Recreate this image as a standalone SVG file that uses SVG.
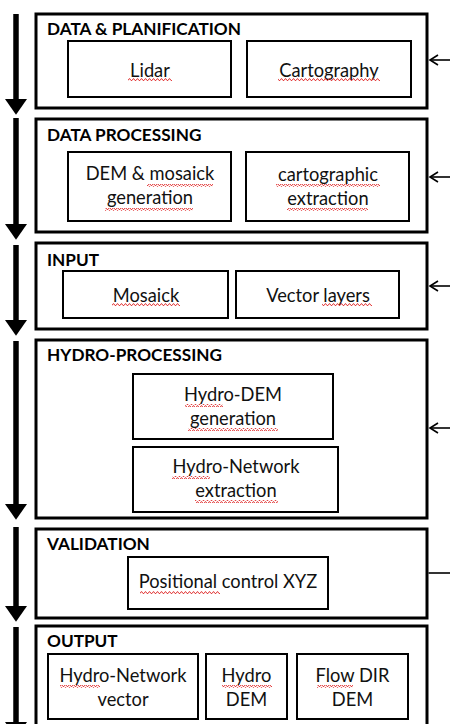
<svg xmlns="http://www.w3.org/2000/svg" width="450" height="724" viewBox="0 0 450 724">
<defs>
<style>
.outer{fill:#fff;stroke:#000;stroke-width:3}
.inner{fill:#fff;stroke:#000;stroke-width:2}
.title{font-family:Lato,"Liberation Sans",sans-serif;font-weight:bold;font-size:17.2px;fill:#000}
.lbl{font-family:Lato,"Liberation Sans",sans-serif;font-size:18.3px;fill:#111;text-anchor:middle}
.thick{stroke:#000;stroke-width:5.5;fill:none}
.thin{stroke:#000;stroke-width:1.6;fill:none}
.sq{fill:url(#sqp)}
</style>
<pattern id="sqp" width="4" height="3" patternUnits="userSpaceOnUse">
<polyline points="0,2.5 1,0.8 2,0.8 3,2.5 4,2.5" fill="none" stroke="#e03030" stroke-width="0.9"/>
</pattern>
<marker id="bighead" markerWidth="4" markerHeight="4" refX="0" refY="1.4" orient="auto" markerUnits="strokeWidth" viewBox="0 0 2 2.8">
<polygon points="0,0 2,1.4 0,2.8" fill="#000"/>
</marker>
<marker id="openhead" markerWidth="12" markerHeight="12" refX="10" refY="6" orient="auto" markerUnits="userSpaceOnUse" viewBox="0 0 12 12">
<polyline points="2,1 10,6 2,11" fill="none" stroke="#000" stroke-width="1.6"/>
</marker>
</defs>
<rect width="450" height="724" fill="#fff"/>

<g id="data-planification">
<rect class="outer" x="36" y="14" width="391" height="94"/>
<text class="title" x="47" y="35">DATA &amp; PLANIFICATION</text>
<g id="lidar">
<rect class="inner" x="68" y="41" width="163" height="56"/>
<text class="lbl" x="150" y="77">Lidar</text>
<rect class="sq" x="128" y="78" width="44" height="3"/>
</g>
<g id="cartography">
<rect class="inner" x="247" y="41" width="164" height="56"/>
<text class="lbl" x="329" y="77">Cartography</text>
<rect class="sq" x="278" y="78" width="102" height="3"/>
</g>
</g>

<g id="data-processing">
<rect class="outer" x="36" y="119" width="391" height="113"/>
<text class="title" x="47" y="141">DATA PROCESSING</text>
<g id="dem-mosaick">
<rect class="inner" x="68" y="152" width="163" height="69"/>
<text class="lbl" x="150" y="180">DEM &amp; mosaick</text>
<text class="lbl" x="150" y="204">generation</text>
<rect class="sq" x="147" y="184" width="66" height="3"/>
<rect class="sq" x="105" y="208" width="88" height="3"/>
</g>
<g id="cartographic-extraction">
<rect class="inner" x="246" y="152" width="163" height="69"/>
<text class="lbl" x="328" y="181">cartographic</text>
<text class="lbl" x="328" y="205">extraction</text>
<rect class="sq" x="276" y="184" width="104" height="3"/>
<rect class="sq" x="287" y="208" width="81" height="3"/>
</g>
</g>

<g id="input">
<rect class="outer" x="36" y="243" width="391" height="86"/>
<text class="title" x="47" y="266">INPUT</text>
<g id="mosaick">
<rect class="inner" x="63" y="271" width="165" height="47"/>
<text class="lbl" x="146" y="302">Mosaick</text>
<rect class="sq" x="112" y="303" width="68" height="3"/>
</g>
<g id="vector-layers">
<rect class="inner" x="236" y="271" width="163" height="47"/>
<text class="lbl" x="318" y="302">Vector layers</text>
<rect class="sq" x="322" y="303" width="50" height="3"/>
</g>
</g>

<g id="hydro-processing">
<rect class="outer" x="36" y="340" width="391" height="178"/>
<text class="title" x="47" y="361">HYDRO-PROCESSING</text>
<g id="hydro-dem-generation">
<rect class="inner" x="133" y="374" width="200" height="65"/>
<text class="lbl" x="233" y="401">Hydro-DEM</text>
<text class="lbl" x="233" y="425">generation</text>
<rect class="sq" x="185" y="404" width="38" height="3"/>
<rect class="sq" x="188" y="428" width="90" height="3"/>
</g>
<g id="hydro-network-extraction">
<rect class="inner" x="133" y="447" width="205" height="65"/>
<text class="lbl" x="236" y="473">Hydro-Network</text>
<text class="lbl" x="236" y="497">extraction</text>
<rect class="sq" x="172" y="476" width="38" height="3"/>
<rect class="sq" x="195" y="500" width="83" height="3"/>
</g>
</g>

<g id="validation">
<rect class="outer" x="36" y="529" width="391" height="89"/>
<text class="title" x="47" y="550">VALIDATION</text>
<g id="positional-control">
<rect class="inner" x="128" y="557" width="200" height="52"/>
<text class="lbl" x="228" y="588">Positional control XYZ</text>
<rect class="sq" x="140" y="591" width="80" height="3"/>
</g>
</g>

<g id="output">
<rect class="outer" x="36" y="626" width="391" height="110"/>
<text class="title" x="47" y="647">OUTPUT</text>
<g id="hydro-network-vector">
<rect class="inner" x="48" y="654" width="150" height="65"/>
<text class="lbl" x="123" y="682">Hydro-Network</text>
<text class="lbl" x="123" y="706">vector</text>
<rect class="sq" x="60" y="685" width="40" height="3"/>
</g>
<g id="hydro-dem">
<rect class="inner" x="206" y="654" width="81" height="65"/>
<text class="lbl" x="246.500" y="682">Hydro</text>
<text class="lbl" x="246.500" y="706">DEM</text>
<rect class="sq" x="222" y="685" width="50" height="3"/>
</g>
<g id="flow-dir-dem">
<rect class="inner" x="297" y="654" width="111" height="65"/>
<text class="lbl" x="352.500" y="682">Flow DIR</text>
<text class="lbl" x="352.500" y="706">DEM</text>
<rect class="sq" x="317" y="685" width="36" height="3"/>
</g>
</g>

<g id="connectors">
<line class="thick" x1="16" y1="14" x2="16" y2="99" marker-end="url(#bighead)"/>
<line class="thick" x1="16" y1="118" x2="16" y2="224" marker-end="url(#bighead)"/>
<line class="thick" x1="16" y1="245" x2="16" y2="320" marker-end="url(#bighead)"/>
<line class="thick" x1="16" y1="341" x2="16" y2="504" marker-end="url(#bighead)"/>
<line class="thick" x1="16" y1="527" x2="16" y2="606" marker-end="url(#bighead)"/>
<line class="thick" x1="16" y1="627" x2="16" y2="722" marker-end="url(#bighead)"/>
<line class="thin" x1="450" y1="60" x2="430" y2="60" marker-end="url(#openhead)"/>
<line class="thin" x1="450" y1="177" x2="430" y2="177" marker-end="url(#openhead)"/>
<line class="thin" x1="450" y1="286" x2="430" y2="286" marker-end="url(#openhead)"/>
<line class="thin" x1="450" y1="428" x2="430" y2="428" marker-end="url(#openhead)"/>
<line class="thin" x1="428.500" y1="573" x2="450" y2="573"/>
</g>
</svg>
